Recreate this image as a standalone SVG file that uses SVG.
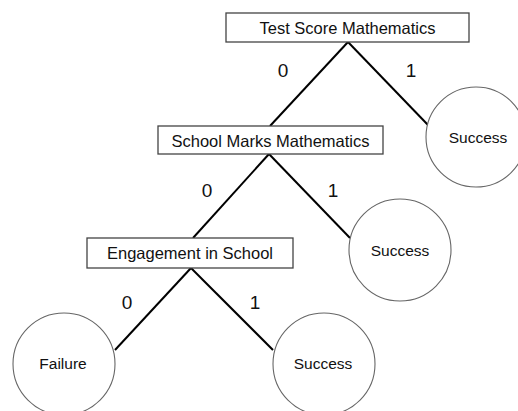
<svg xmlns="http://www.w3.org/2000/svg" width="518" height="411" viewBox="0 0 518 411">
<style>
.box{fill:#fff;stroke:#444;stroke-width:1.3}
.leaf{fill:#fff;stroke:#666;stroke-width:1.1}
.edge{stroke:#000;stroke-width:2;fill:none}
.t{font-family:"Liberation Sans",Arial,sans-serif;font-size:16.5px;fill:#111;text-anchor:middle;dominant-baseline:central}
.lt{font-family:"Liberation Sans",Arial,sans-serif;font-size:15.5px;fill:#111;text-anchor:middle;dominant-baseline:central}
.el{font-family:"Liberation Sans",Arial,sans-serif;font-size:19px;fill:#111;text-anchor:middle;dominant-baseline:central}
</style>
<rect width="518" height="411" fill="#fff"/>
<g id="connectors">
<line class="edge" x1="348" y1="42" x2="270" y2="126"/>
<line class="edge" x1="348" y1="42" x2="428" y2="125"/>
<line class="edge" x1="269" y1="154" x2="193" y2="238"/>
<line class="edge" x1="269" y1="154" x2="350" y2="238"/>
<line class="edge" x1="191" y1="268" x2="115" y2="350"/>
<line class="edge" x1="191" y1="268" x2="273" y2="350"/>
<text class="el" x="283" y="70">0</text>
<text class="el" x="411" y="70">1</text>
<text class="el" x="207" y="190">0</text>
<text class="el" x="333" y="190">1</text>
<text class="el" x="127" y="302">0</text>
<text class="el" x="255" y="302">1</text>
</g>
<g id="test-score">
<rect class="box" x="226" y="13" width="243" height="29"/>
<text class="t" x="347.5" y="28">Test Score Mathematics</text>
</g>
<g id="school-marks">
<rect class="box" x="158" y="126" width="225" height="28"/>
<text class="t" x="270.5" y="140.5">School Marks Mathematics</text>
</g>
<g id="engagement">
<rect class="box" x="87" y="238" width="206" height="30"/>
<text class="t" x="190" y="253">Engagement in School</text>
</g>
<g id="success-1">
<circle class="leaf" cx="476" cy="137" r="50"/>
<text class="lt" x="478" y="137">Success</text>
</g>
<g id="success-2">
<circle class="leaf" cx="400" cy="250" r="51"/>
<text class="lt" x="400" y="250">Success</text>
</g>
<g id="failure">
<circle class="leaf" cx="64" cy="364" r="51"/>
<text class="lt" x="63" y="363">Failure</text>
</g>
<g id="success-3">
<circle class="leaf" cx="324" cy="364" r="51"/>
<text class="lt" x="323" y="363">Success</text>
</g>
</svg>
